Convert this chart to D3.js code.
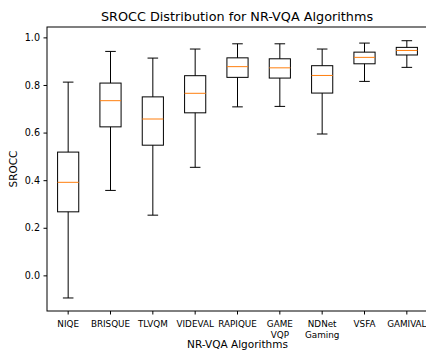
<!DOCTYPE html>
<html><head><meta charset="utf-8">
<script src="https://cdn.jsdelivr.net/npm/d3@7"></script>
<style>body{margin:0;background:#fff}svg{display:block}text{font-family:"DejaVu Sans",sans-serif}</style>
</head><body>
<script>
const categories = ["NIQE","BRISQUE","TLVQM","VIDEVAL","RAPIQUE","GAME\nVQP","NDNet\nGaming","VSFA","GAMIVAL"];
const whiskerLow = [-0.095,0.357,0.253,0.454,0.708,0.710,0.594,0.815,0.874];
const q1 =        [0.267,0.624,0.547,0.683,0.832,0.829,0.766,0.889,0.926];
const median =    [0.391,0.734,0.657,0.765,0.877,0.872,0.840,0.916,0.945];
const q3 =        [0.518,0.808,0.750,0.839,0.914,0.910,0.881,0.938,0.958];
const whiskerHigh=[0.812,0.941,0.913,0.951,0.973,0.973,0.951,0.976,0.986];
const yTicks = [0.0,0.2,0.4,0.6,0.8,1.0];

const W=426,H=352;
const L=47,T=27,R=428,B=311;
const svg=d3.select("body").append("svg").attr("width",W).attr("height",H);
const x=d3.scaleBand().domain(d3.range(categories.length)).range([L,R]).paddingInner(0).paddingOuter(0);
const y=d3.scaleLinear().domain([-0.1497,1.0436]).range([B,T]);
const bw=x.bandwidth()*0.5, cw=bw*0.5;

const g=svg.append("g");
categories.forEach((c,i)=>{
  const cx=x(i)+x.bandwidth()/2;
  const gg=g.append("g").attr("stroke","#000").attr("stroke-width",1).attr("fill","none");
  gg.append("line").attr("x1",cx).attr("x2",cx).attr("y1",y(whiskerLow[i])).attr("y2",y(q1[i]));
  gg.append("line").attr("x1",cx).attr("x2",cx).attr("y1",y(q3[i])).attr("y2",y(whiskerHigh[i]));
  gg.append("line").attr("x1",cx-cw/2).attr("x2",cx+cw/2).attr("y1",y(whiskerLow[i])).attr("y2",y(whiskerLow[i]));
  gg.append("line").attr("x1",cx-cw/2).attr("x2",cx+cw/2).attr("y1",y(whiskerHigh[i])).attr("y2",y(whiskerHigh[i]));
  gg.append("rect").attr("x",cx-bw/2).attr("width",bw).attr("y",y(q3[i])).attr("height",y(q1[i])-y(q3[i]));
  gg.append("line").attr("x1",cx-bw/2).attr("x2",cx+bw/2).attr("y1",y(median[i])).attr("y2",y(median[i])).attr("stroke","#ff7f0e");
});

// axes
const ya=svg.append("g").attr("transform",`translate(${L},0)`).call(d3.axisLeft(y).tickValues(yTicks).tickFormat(d3.format(".1f")).tickSize(3.5).tickPadding(3.5));
ya.select(".domain").remove();
ya.selectAll("text").attr("font-size",9.6).attr("fill","#000").attr("font-family","DejaVu Sans");
ya.selectAll("line").attr("stroke","#000");
const xa=svg.append("g").attr("transform",`translate(0,${B})`).call(d3.axisBottom(x).tickFormat("").tickSize(3.5));
xa.select(".domain").remove();
xa.selectAll("line").attr("stroke","#000");
xa.selectAll(".tick").each(function(d){
  const lines=categories[d].split("\n");
  const t=d3.select(this).append("text").attr("fill","#000").attr("font-size",8.8).attr("text-anchor","middle").attr("font-family","DejaVu Sans");
  lines.forEach((s,k)=>t.append("tspan").attr("x",0).attr("y",16+k*10.5).text(s));
});
// spines
svg.append("rect").attr("x",L).attr("y",T).attr("width",R-L).attr("height",B-T).attr("fill","none").attr("stroke","#000").attr("stroke-width",1);

svg.append("text").attr("x",237).attr("y",21).attr("text-anchor","middle").attr("font-size",12.8).text("SROCC Distribution for NR-VQA Algorithms");
svg.append("text").attr("x",237.5).attr("y",348).attr("text-anchor","middle").attr("font-size",10.5).text("NR-VQA Algorithms");
svg.append("text").attr("transform",`translate(16.5,${(T+B)/2}) rotate(-90)`).attr("text-anchor","middle").attr("font-size",10.5).text("SROCC");
</script>
</body></html>
